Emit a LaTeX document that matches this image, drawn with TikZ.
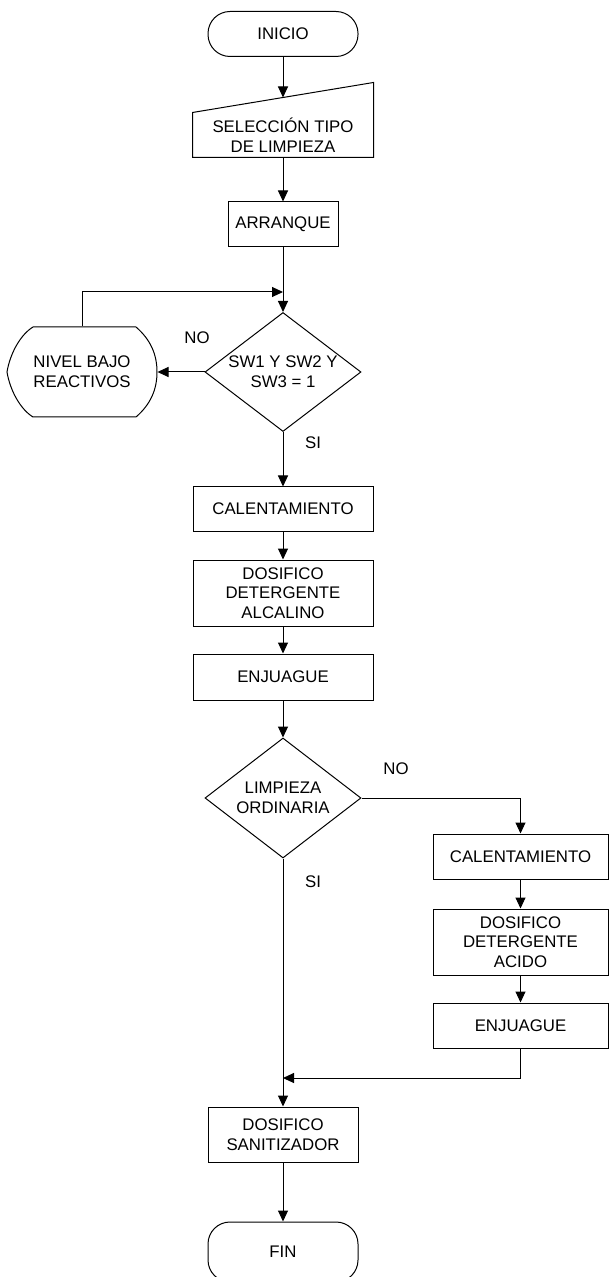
\documentclass[tikz,border=0pt]{standalone}
\usepackage{fontspec}
\setmainfont{Liberation Sans}
\usetikzlibrary{shapes.geometric, arrows.meta, calc}

\begin{document}
\begin{tikzpicture}[x=0.5pt,y=-0.5pt,line width=0.5pt,
  every node/.style={font=\fontsize{8.4}{9.8}\selectfont,align=center,inner sep=0pt},
  flow/.style={-{Triangle[length=5.5pt,width=5pt]}},
  box/.style={draw,rectangle,minimum width=90pt,minimum height=22pt},
  term/.style={draw,rectangle,rounded corners=11pt,minimum width=75pt,minimum height=22.5pt},
  decision/.style={draw,diamond,shape aspect=1.31,minimum width=78pt,minimum height=59.5pt},
  lbl/.style={draw=none}]
  \useasboundingbox (0,0) rectangle (609,1277);

  \node[term] (inicio) at (283,34) {INICIO};
  \node (sel) at (283,135) [minimum width=90pt,minimum height=22pt] {SELECCIÓN TIPO\\DE LIMPIEZA};
  \draw (sel.south west) -- (sel.south east) -- ($(sel.north east)+(0,15pt)$) -- (sel.north west) -- cycle;
  \coordinate (selin) at ($(sel.north)+(0,7.5pt)$);
  \node[box] (arranque) at (283,224.5) [minimum width=55pt,minimum height=22.5pt] {ARRANQUE};
  \coordinate (join) at (283,292);
  \node[decision] (sw) at (283,372) {SW1 Y SW2 Y\\SW3 = 1};
  \node (nivel) at (82,372) [minimum width=75pt,minimum height=45pt] {NIVEL BAJO\\REACTIVOS};
  \draw (33,327) -- (136,327) .. controls (151,340) and (157,355) .. (157,372)
    .. controls (157,389) and (151,404) .. (136,417) -- (33,417)
    .. controls (20,409) and (10,390) .. (7,372) .. controls (10,354) and (20,335) .. (33,327);

  \node[box] (cal1) at (283,509) {CALENTAMIENTO};
  \node[box] (alcalino) at (283,593) [minimum height=33pt] {DOSIFICO\\DETERGENTE\\ALCALINO};
  \node[box] (enj1) at (283,677) [minimum height=23pt] {ENJUAGUE};
  \node[decision] (ordinaria) at (283,798) [minimum height=60pt] {LIMPIEZA\\ORDINARIA};

  \node[box] (cal2) at (520.5,856.5) [minimum width=87.5pt,minimum height=22.5pt] {CALENTAMIENTO};
  \node[box] (acido) at (520.5,942) [minimum width=87.5pt,minimum height=33pt] {DOSIFICO\\DETERGENTE\\ACIDO};
  \node[box] (enj2) at (520.5,1025.5) [minimum width=87.5pt,minimum height=22.5pt] {ENJUAGUE};
  \coordinate (merge) at (283,1078);

  \node[box] (sanit) at (283,1134.5) [minimum width=75pt,minimum height=27.5pt] {DOSIFICO\\SANITIZADOR};
  \node[term] (fin) at (283,1252) [minimum height=30pt] {FIN};

  \node[lbl] (no1) at (197,338) {NO};
  \node[lbl] (si1) at (313,443) {SI};
  \node[lbl] (no2) at (396,769) {NO};
  \node[lbl] (si2) at (313,882) {SI};

  \draw[flow] (inicio) -- (selin);
  \draw[flow] (sel.south) -- (arranque.north);
  \draw[flow] (arranque) -- (sw);
  \draw[flow] (nivel.north) |- (join);
  \draw[flow] (sw.west) -- (nivel.east);
  \draw[flow] (sw) -- (cal1);
  \draw[flow] (cal1) -- (alcalino);
  \draw[flow] (alcalino) -- (enj1);
  \draw[flow] (enj1) -- (ordinaria);
  \draw[flow] (ordinaria.east) -| (cal2.north);
  \draw[flow] (cal2) -- (acido);
  \draw[flow] (acido) -- (enj2);
  \draw[flow] (enj2.south) |- (merge);
  \draw[flow] (ordinaria) -- (sanit);
  \draw[flow] (sanit) -- (fin);
\end{tikzpicture}
\end{document}
